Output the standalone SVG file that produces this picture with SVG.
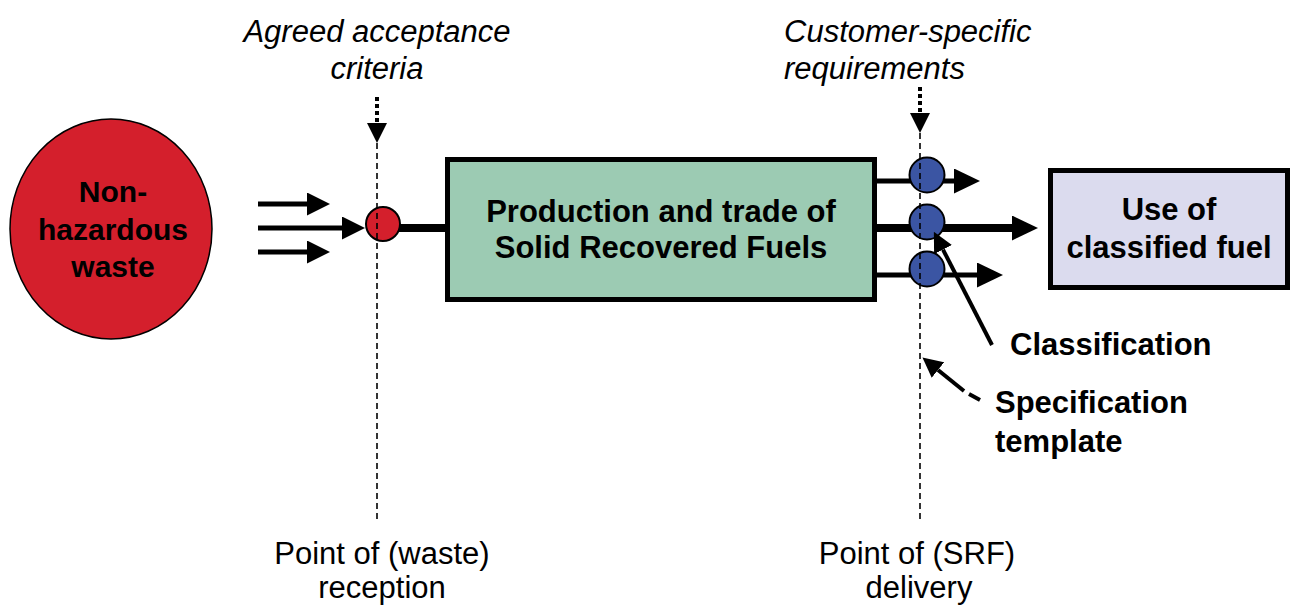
<svg xmlns="http://www.w3.org/2000/svg" width="1309" height="610" viewBox="0 0 1309 610">
<style>
  .bold { font-family: "Liberation Sans", Arial, sans-serif; font-weight: bold; font-size: 31px; fill: #000; }
  .big { font-size: 30px; }
  .ital { font-family: "Liberation Sans", Arial, sans-serif; font-style: italic; font-size: 31px; fill: #000; }
  .reg { font-family: "Liberation Sans", Arial, sans-serif; font-size: 31px; fill: #000; }
  .mid { text-anchor: middle; }
  .node { stroke: #000; }
  .conn { stroke: #000; fill: none; }
  .guide { stroke: #000; stroke-width: 1.6; stroke-dasharray: 6 4; fill: none; }
  .dots { stroke: #000; stroke-width: 4; stroke-dasharray: 4 3; fill: none; }
</style>
<defs>
  <marker id="ahS" viewBox="0 0 23 23" refX="0" refY="11.5" markerWidth="23" markerHeight="23" markerUnits="userSpaceOnUse" orient="auto">
    <path d="M0,0 L23,11.5 L0,23 z" fill="#000"/>
  </marker>
  <marker id="ahL" viewBox="0 0 26 25" refX="0" refY="12.5" markerWidth="26" markerHeight="25" markerUnits="userSpaceOnUse" orient="auto">
    <path d="M0,0 L26,12.5 L0,25 z" fill="#000"/>
  </marker>
  <marker id="ahD" viewBox="0 0 20 20" refX="0" refY="10" markerWidth="20" markerHeight="20" markerUnits="userSpaceOnUse" orient="auto">
    <path d="M0,0 L20,10 L0,20 z" fill="#000"/>
  </marker>
</defs>
<rect width="1309" height="610" fill="#fff"/>

<g id="connectors">
  <line class="conn" x1="258" y1="204" x2="307" y2="204" stroke-width="5" marker-end="url(#ahS)"/>
  <line class="conn" x1="258" y1="228" x2="342" y2="228" stroke-width="5" marker-end="url(#ahS)"/>
  <line class="conn" x1="258" y1="252" x2="307" y2="252" stroke-width="5" marker-end="url(#ahS)"/>
  <line class="conn" x1="398" y1="228" x2="448" y2="228" stroke-width="8"/>
  <line class="conn" x1="874" y1="181" x2="954" y2="181" stroke-width="5" marker-end="url(#ahL)"/>
  <line class="conn" x1="874" y1="228" x2="1012" y2="228" stroke-width="8" marker-end="url(#ahL)"/>
  <line class="conn" x1="874" y1="275" x2="977" y2="275" stroke-width="5" marker-end="url(#ahL)"/>
  <line class="dots" x1="377" y1="97" x2="377" y2="123" marker-end="url(#ahD)"/>
  <line class="dots" x1="920" y1="87" x2="920" y2="113" marker-end="url(#ahD)"/>
</g>

<g id="waste" class="node">
  <ellipse cx="111" cy="229" rx="101" ry="110" fill="#d41f2c" stroke-width="1.5"/>
  <text class="bold big mid" x="113" y="202" stroke="none">Non-</text>
  <text class="bold big mid" x="113" y="240" stroke="none">hazardous</text>
  <text class="bold big mid" x="113" y="277" stroke="none">waste</text>
</g>

<g id="reception-point" class="node">
  <circle cx="383" cy="224" r="17" fill="#d41f2c" stroke-width="2"/>
</g>

<g id="production" class="node">
  <rect x="447.5" y="159.5" width="427" height="140" fill="#9ccbb3" stroke-width="5"/>
  <text class="bold mid" x="661" y="222" stroke="none">Production and trade of</text>
  <text class="bold mid" x="661" y="258" stroke="none">Solid Recovered Fuels</text>
</g>

<g id="delivery-points" class="node">
  <circle cx="927" cy="175" r="17.5" fill="#3b55a3" stroke-width="2"/>
  <circle cx="927" cy="222" r="17.5" fill="#3b55a3" stroke-width="2"/>
  <circle cx="927" cy="269" r="17.5" fill="#3b55a3" stroke-width="2"/>
</g>

<g id="use" class="node">
  <rect x="1050.5" y="170.5" width="237" height="117" fill="#dbdbee" stroke-width="5"/>
  <text class="bold mid" x="1169" y="220" stroke="none">Use of</text>
  <text class="bold mid" x="1169" y="258" stroke="none">classified fuel</text>
</g>

<g id="guides">
  <line class="guide" x1="377" y1="143" x2="377" y2="522"/>
  <line class="guide" x1="920" y1="133" x2="920" y2="520"/>
</g>

<g id="classification">
  <line class="conn" x1="992" y1="345" x2="943" y2="249.6" stroke-width="4" marker-end="url(#ahD)"/>
  <text class="bold" x="1010" y="355">Classification</text>
</g>

<g id="specification">
  <line class="conn" x1="980" y1="400" x2="969" y2="394" stroke-width="4"/>
  <line class="conn" x1="964" y1="391" x2="938" y2="370" stroke-width="4" marker-end="url(#ahD)"/>
  <text class="bold" x="995" y="413">Specification</text>
  <text class="bold" x="995" y="452">template</text>
</g>

<g id="acceptance-label">
  <text class="ital mid" x="377" y="42">Agreed acceptance</text>
  <text class="ital mid" x="377" y="79">criteria</text>
</g>

<g id="customer-label">
  <text class="ital" x="784" y="42">Customer-specific</text>
  <text class="ital" x="784" y="79">requirements</text>
</g>

<g id="reception-label">
  <text class="reg mid" x="382" y="564">Point of (waste)</text>
  <text class="reg mid" x="382" y="598">reception</text>
</g>

<g id="delivery-label">
  <text class="reg mid" x="917" y="564">Point of (SRF)</text>
  <text class="reg mid" x="919" y="598">delivery</text>
</g>
</svg>
